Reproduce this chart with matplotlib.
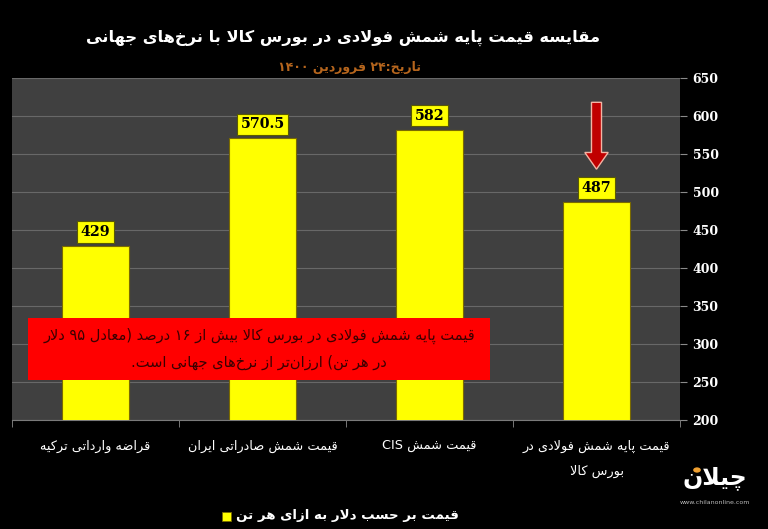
import re
import matplotlib
matplotlib.use("Agg")
import matplotlib.pyplot as plt
from matplotlib.patches import Rectangle, FancyArrow, Circle

plt.rcParams['font.family'] = ['DejaVu Sans']

# data
categories = ["قراضه وارداتی ترکیه", "قیمت شمش صادراتی ایران", "قیمت شمش CIS",
              "قیمت پایه شمش فولادی در\nبورس کالا"]
values = [429, 570.5, 582, 487]
value_labels = ["429", "570.5", "582", "487"]
yticks = [200, 250, 300, 350, 400, 450, 500, 550, 600, 650]
title = "مقایسه قیمت پایه شمش فولادی در بورس کالا با نرخ‌های جهانی"
subtitle = "تاریخ:۲۴ فروردین ۱۴۰۰"
note = "قیمت پایه شمش فولادی در بورس کالا بیش از ۱۶ درصد (معادل ۹۵ دلار\nدر هر تن) ارزان‌تر از نرخ‌های جهانی است."
legend_label = "قیمت بر حسب دلار به ازای هر تن"

# simple arabic/persian shaping (matplotlib has no text shaping)
four = {'ئ': 0xFE89, 'ب': 0xFE8F, 'ت': 0xFE95, 'ث': 0xFE99, 'ج': 0xFE9D, 'ح': 0xFEA1,
        'خ': 0xFEA5, 'س': 0xFEB1, 'ش': 0xFEB5, 'ص': 0xFEB9, 'ض': 0xFEBD, 'ط': 0xFEC1,
        'ظ': 0xFEC5, 'ع': 0xFEC9, 'غ': 0xFECD, 'ف': 0xFED1, 'ق': 0xFED5, 'ك': 0xFED9,
        'ل': 0xFEDD, 'م': 0xFEE1, 'ن': 0xFEE5, 'ه': 0xFEE9, 'ي': 0xFEF1, 'پ': 0xFB56,
        'چ': 0xFB7A, 'ک': 0xFB8E, 'گ': 0xFB92, 'ی': 0xFBFC}
two = {'آ': 0xFE81, 'أ': 0xFE83, 'ؤ': 0xFE85, 'إ': 0xFE87, 'ا': 0xFE8D, 'ة': 0xFE93,
       'د': 0xFEA9, 'ذ': 0xFEAB, 'ر': 0xFEAD, 'ز': 0xFEAF, 'و': 0xFEED, 'ى': 0xFEEF,
       'ژ': 0xFB8A}
lam_alef = {'ا': 0xFEFB, 'آ': 0xFEF5, 'أ': 0xFEF7, 'إ': 0xFEF9}
mirror = str.maketrans("()", ")(")


def shape(s):
    out = []
    i = 0
    while i < len(s):
        c = s[i]
        prev = s[i - 1] if i > 0 else ''
        nxt = s[i + 1] if i + 1 < len(s) else ''
        cp = prev in four
        if c == 'ل' and nxt in lam_alef:
            out.append(chr(lam_alef[nxt] + (1 if cp else 0)))
            i += 2
            continue
        if c in four:
            cn = nxt in four or nxt in two
            b = four[c]
            out.append(chr(b + (3 if cp and cn else 1 if cp else 2 if cn else 0)))
        elif c in two:
            out.append(chr(two[c] + (1 if cp else 0)))
        elif c != '\u200c':
            out.append(c)
        i += 1
    return ''.join(out)


def fa(text):
    lines = []
    for line in text.split("\n"):
        s = shape(line)
        runs = re.findall(r'[A-Za-z0-9۰-۹.]+|[^A-Za-z0-9۰-۹.]+', s)
        res = []
        for r in reversed(runs):
            if re.match(r'[A-Za-z0-9۰-۹.]', r):
                res.append(r)
            else:
                res.append(r[::-1].translate(mirror))
        lines.append(''.join(res))
    return "\n".join(lines)


fig = plt.figure(figsize=(7.68, 5.29), dpi=100, facecolor='black')
ax = fig.add_axes([12 / 768, 109 / 529, 668 / 768, 342 / 529])
ax.set_facecolor('#404040')

x = list(range(len(values)))
ax.bar(x, values, width=0.40, color='#ffff00', edgecolor='#7a6a00', linewidth=0.8, zorder=3)
ax.set_xlim(-0.5, 3.5)
ax.set_ylim(200, 650)

for i, v in enumerate(values):
    ax.annotate(value_labels[i], (i, v), xytext=(0, 5), textcoords='offset points',
                ha='center', va='bottom', fontsize=10.3, fontweight='bold',
                family='DejaVu Serif', color='black', zorder=5,
                bbox=dict(boxstyle='square,pad=0.25', fc='#ffff00', ec='#5a5a00', lw=0.8))

ax.yaxis.tick_right()
ax.set_yticks(yticks)
ax.set_yticklabels([str(t) for t in yticks], family='DejaVu Serif', fontweight='bold')
ax.tick_params(axis='y', colors='#8a8a8a', labelcolor='white', labelsize=9, length=5, pad=4)
ax.grid(axis='y', color='#686868', linewidth=0.8, zorder=0)
ax.set_axisbelow(True)

ax.set_xticks(x)
ax.set_xticklabels([fa(c) for c in categories], color='white', fontsize=9.3,
                   linespacing=2.2)
ax.set_xticks([-0.5, 0.5, 1.5, 2.5, 3.5], minor=True)
ax.tick_params(axis='x', which='major', length=0, pad=14)
ax.tick_params(axis='x', which='minor', length=5, color='#8a8a8a')
for sp in ['top', 'left', 'right']:
    ax.spines[sp].set_visible(False)
ax.spines['bottom'].set_color('#7a7a7a')

# red note box
ax.add_patch(Rectangle((-0.404, 252.6), 2.766, 81.6, fc='#ff0000', ec='none', zorder=6))
ax.text(0.979, 293.3, fa(note), ha='center', va='center', fontsize=10.5,
        color='#3a0000', linespacing=1.9, zorder=7)

# arrow above the last bar
ax.add_patch(FancyArrow(3, 618, 0, -88, width=0.06, head_width=0.14, head_length=22,
                        length_includes_head=True, fc='#c00000', ec='#f4b4a4', lw=1, zorder=6))

fig.text(343 / 768, 1 - 38 / 529, fa(title), ha='center', va='center', color='white',
         fontsize=11.7, fontweight='bold')
fig.text(350 / 768, 1 - 67 / 529, fa(subtitle), ha='center', va='center', color='#b5651d',
         fontsize=9, fontweight='bold')

# legend
fig.patches.append(Rectangle((222 / 768, 1 - 521 / 529), 9 / 768, 9 / 529, fc='#ffff00',
                             ec='#7a6a00', lw=0.6, transform=fig.transFigure))
fig.text(236 / 768, 1 - 516 / 529, fa(legend_label), ha='left', va='center', color='white',
         fontsize=9.6, fontweight='bold')

# logo
fig.text(715 / 768, 1 - 478 / 529, fa("چیلان"), ha='center', va='center', color='white',
         fontsize=17, fontweight='bold')
fig.patches.append(Circle((697 / 768, 1 - 470 / 529), 0.005, fc='#f0a030', ec='none',
                          transform=fig.transFigure))
fig.text(715 / 768, 1 - 503 / 529, "www.chilanonline.com", ha='center', va='center',
         color='#bbbbbb', fontsize=4.5)

fig.savefig("out.png", dpi=100, facecolor='black')
